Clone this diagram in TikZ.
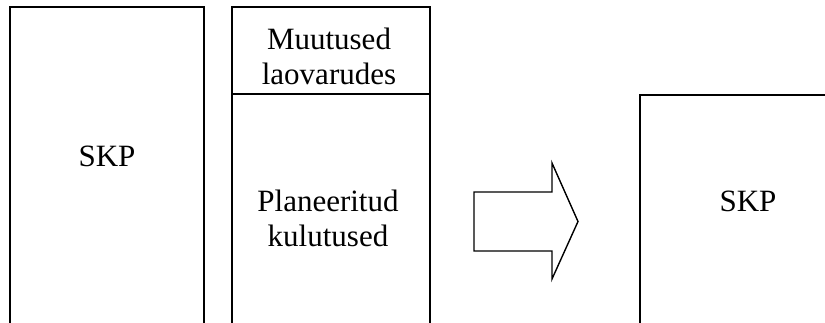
\documentclass[tikz,border=0pt]{standalone}
\usepackage{fontspec}
\setmainfont{Liberation Serif}
\begin{document}
\begin{tikzpicture}[x=1pt,y=-1pt,
  edge/.style={draw=black,line width=1.4pt},
  lbl/.style={font=\fontsize{31}{35}\selectfont,align=center,inner sep=0pt,anchor=base}]
\useasboundingbox (0,0) rectangle (825,322);
% left box
\draw[edge] (10,330) -- (10,7) -- (204,7) -- (204,330);
% middle box
\draw[edge] (232,330) -- (232,7) -- (430,7) -- (430,330);
\draw[edge] (232,94) -- (430,94);
% arrow
\draw[edge,line join=miter] (474,192) -- (552,192) -- (552,163) -- (578,221.5) -- (552,279) -- (552,251) -- (474,251) -- cycle;
% right box
\draw[edge] (640,330) -- (640,95) -- (830,95);
% texts
\node[lbl] (skpL) at (107,166) {SKP};
\node[lbl] (muut) at (329,49) {Muutused};
\node[lbl] (laov) at (329,84) {laovarudes};
\node[lbl] (plan) at (328,211) {Planeeritud};
\node[lbl] (kulu) at (328,246) {kulutused};
\node[lbl] (skpR) at (748,211) {SKP};
\end{tikzpicture}
\end{document}
